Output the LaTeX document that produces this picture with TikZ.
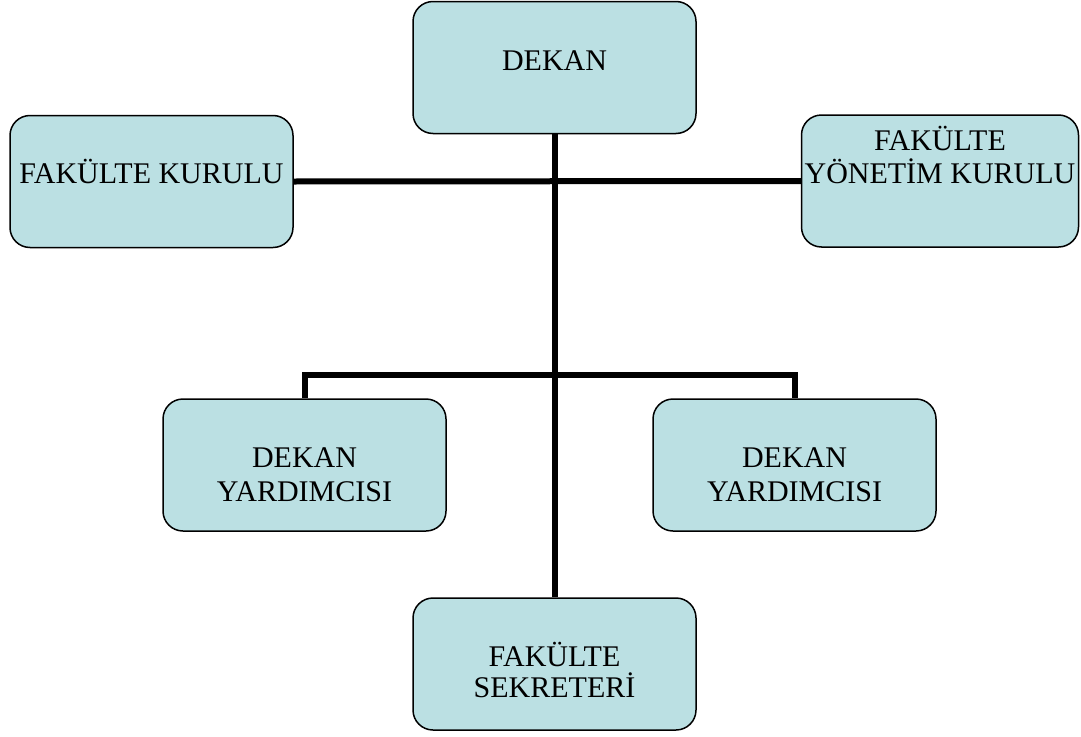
\documentclass[tikz,border=0pt]{standalone}
\usepackage{fontspec}
\setmainfont{Liberation Serif}
\definecolor{boxfill}{RGB}{187,224,227}
\tikzset{
  orgbox/.style={draw=black, line width=1.5pt, fill=boxfill, rounded corners=20pt,
    inner sep=0pt, minimum width=283pt, minimum height=132pt},
  lbl/.style={font=\fontsize{30}{33}\selectfont, anchor=base, inner sep=0pt},
  conn/.style={line width=6pt, line join=miter}
}
\begin{document}
\begin{tikzpicture}[x=1pt,y=-1pt]
\useasboundingbox (0,0) rectangle (1081,736);
% boxes
\node[orgbox] (dekan) at (554.5,67.5) {};
\node[orgbox] (fk) at (151.5,181.5) {};
\node[orgbox, minimum width=277pt] (fyk) at (940,181) {};
\node[orgbox] (dy1) at (304.5,465) {};
\node[orgbox] (dy2) at (794.5,465) {};
\node[orgbox] (sek) at (554.5,664) {};
% connectors
\draw[conn] (dekan.south) -- (sek.north);
\draw[conn] (fk.east) -- (fyk.west);
\draw[conn] (dy1.north) -- (dy1.north |- 0,375) -- (dy2.north |- 0,375) -- (dy2.north);
% labels
\node[lbl] (t1) at (554.5,70) {DEKAN};
\node[lbl] (t2) at (151.5,183) {FAKÜLTE KURULU};
\node[lbl] (t3a) at (940,150) {FAKÜLTE};
\node[lbl] (t3b) at (940,183) {YÖNETİM KURULU};
\node[lbl] (t4a) at (304.5,467) {DEKAN};
\node[lbl] (t4b) at (304.5,501) {YARDIMCISI};
\node[lbl] (t5a) at (794.5,467) {DEKAN};
\node[lbl] (t5b) at (794.5,501) {YARDIMCISI};
\node[lbl] (t6a) at (554.5,666) {FAKÜLTE};
\node[lbl] (t6b) at (554.5,697) {SEKRETERİ};
\end{tikzpicture}
\end{document}
